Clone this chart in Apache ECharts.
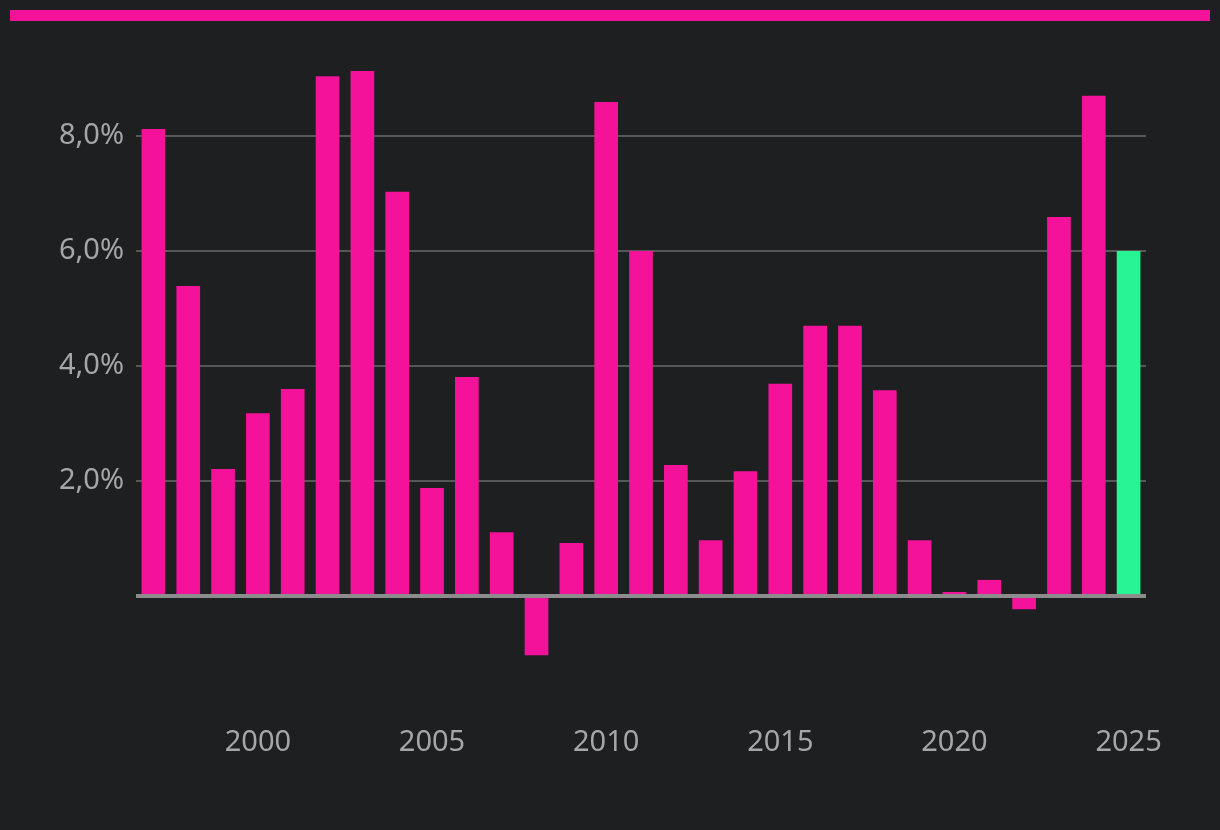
<!DOCTYPE html>
<html>
<head>
<meta charset="utf-8">
<script src="https://cdn.jsdelivr.net/npm/echarts@6/dist/echarts.min.js"></script>
<style>
html,body{margin:0;padding:0;background:#1e1f21;}
#chart{width:1220px;height:830px;}
</style>
</head>
<body>
<div id="chart"></div>
<script>
const years = ['1997','1998','1999','2000','2001','2002','2003','2004','2005','2006','2007','2008','2009','2010','2011','2012','2013','2014','2015','2016','2017','2018','2019','2020','2021','2022','2023','2024','2025'];
const growth = [8.12,5.39,2.21,3.18,3.6,9.04,9.13,7.03,1.88,3.81,1.11,-1.03,0.92,8.59,6.0,2.28,0.97,2.17,3.69,4.7,4.7,3.58,0.97,0.07,0.28,-0.23,6.59,8.7,6.0];
const highlightYear = '2025';
const yTicks = [2,4,6,8];

const PINK = '#f5129a', GREEN = '#27f593', TXT = '#a6a6a6';
const chart = echarts.init(document.getElementById('chart'));
chart.setOption({
  backgroundColor: '#1e1f21',
  animation: false,
  graphic: [{type:'rect', shape:{x:10,y:10,width:1200,height:11}, style:{fill:PINK}}],
  grid: {left:136, right:74, top:21, bottom:119},
  xAxis: {
    type:'category', data: years, position:'bottom',
    axisLine:{show:false, onZero:false}, axisTick:{show:false},
    axisLabel:{
      color:TXT, fontSize:29, fontFamily:'Noto Sans', margin:17,
      interval:(i,v)=> Number(v)%5===0
    }
  },
  yAxis: {
    type:'value', min:-2, max:10, interval:2,
    axisLine:{show:false}, axisTick:{show:false},
    axisLabel:{
      color:TXT, fontSize:29, fontFamily:'Noto Sans', margin:12,
      formatter:v=> yTicks.includes(v) ? v.toFixed(1).replace('.',',')+'%' : ''
    },
    splitLine:{lineStyle:{width:2, color:['transparent','transparent','#575757','#575757','#575757','#575757','transparent']}}
  },
  series: [{
    type:'bar', barCategoryGap:'32%',
    data: growth.map((v,i)=>({value:v, itemStyle:{color: years[i]===highlightYear?GREEN:PINK}})),
    markLine:{silent:true, symbol:'none', label:{show:false},
      lineStyle:{color:'#8c8c8c', width:4, type:'solid'}, data:[{yAxis:0}]}
  }]
});
</script>
</body>
</html>
